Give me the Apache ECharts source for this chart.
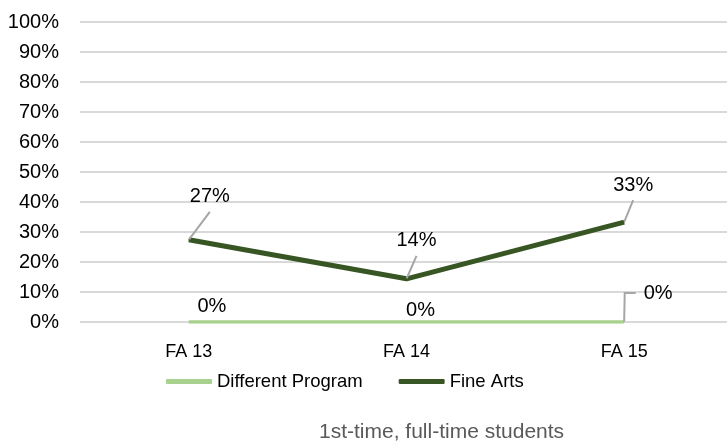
<!DOCTYPE html>
<html>
<head>
<meta charset="utf-8">
<script src="https://cdn.jsdelivr.net/npm/echarts@6/dist/echarts.min.js"></script>
<style>
html, body { margin: 0; padding: 0; background: #fff; }
#main { width: 727px; height: 445px; }
</style>
</head>
<body>
<div id="main"></div>
<script>
var categories = ['FA 13', 'FA 14', 'FA 15'];
var differentProgram = [0, 0, 0];
var fineArts = [27.4, 14.4, 33.3];
var seriesNames = ['Different Program', 'Fine Arts'];
var subtitle = '1st-time, full-time students';

var fontFamily = '"Liberation Sans", Arial, sans-serif';

//标签偏移 (相对于数据点)
var fineArtsOffsets = [[21, -43], [10, -38], [9, -37]];
var diffOffsets = [[23, -16], [14, -12], [34, -29]];

function pct(v) {
	return Math.round(v) + '%';
}

var myChart = echarts.init(document.getElementById('main'));

var option = {
	animation: false,
	title: {
		text: subtitle,
		left: 319,
		top: 422,
		padding: 0,
		textStyle: {
			fontFamily: fontFamily,
			fontSize: 21,
			fontWeight: 'normal',
			color: '#595959'
		}
	},
	legend: {
		data: seriesNames,
		left: 166,
		top: 372,
		padding: 0,
		icon: 'roundRect',
		itemWidth: 46,
		itemHeight: 5,
		itemGap: 36,
		textStyle: {
			fontFamily: fontFamily,
			fontSize: 18.5,
			color: '#000'
		}
	},
	grid: {
		left: 80,
		width: 653,
		top: 22,
		height: 300,
		containLabel: false,
		outerBoundsMode: 'none'
	},
	xAxis: {
		type: 'category',
		data: categories,
		boundaryGap: true,
		axisLine: { show: false },
		axisTick: { show: false },
		axisLabel: {
			margin: 21,
			fontFamily: fontFamily,
			fontSize: 18,
			color: '#000'
		}
	},
	yAxis: {
		type: 'value',
		min: 0,
		max: 100,
		interval: 10,
		axisLine: { show: false },
		axisTick: { show: false },
		axisLabel: {
			margin: 21,
			formatter: '{value}%',
			fontFamily: fontFamily,
			fontSize: 20,
			color: '#000'
		},
		splitLine: {
			lineStyle: { color: '#d9d9d9', width: 2 }
		}
	},
	series: [{
		name: seriesNames[0],
		type: 'line',
		data: differentProgram.map(function(v, idx) {
			return {
				value: v,
				labelLine: { show: idx == 2, length2: 11 }
			};
		}),
		symbol: 'circle',
		symbolSize: 1,
		itemStyle: { color: '#a9d18e' },
		lineStyle: { color: '#a9d18e', width: 3.5 },
		emphasis: { disabled: true },
		z: 2,
		label: {
			show: true,
			position: 'inside',
			padding: [5, 8, 5, 8],
			backgroundColor: 'rgba(255,255,255,0)',
			fontFamily: fontFamily,
			fontSize: 20,
			color: '#000',
			formatter: function(p) { return pct(p.value); }
		},
		labelLine: {
			show: true,
			lineStyle: { color: '#a6a6a6', width: 2 }
		},
		labelLayout: function(p) {
			return { dx: diffOffsets[p.dataIndex][0], dy: diffOffsets[p.dataIndex][1] };
		}
	}, {
		name: seriesNames[1],
		type: 'line',
		data: fineArts,
		symbol: 'circle',
		symbolSize: 1,
		itemStyle: { color: '#375623' },
		lineStyle: { color: '#375623', width: 5 },
		emphasis: { disabled: true },
		z: 3,
		label: {
			show: true,
			position: 'inside',
			padding: [5, 6, 5, 6],
			backgroundColor: 'rgba(255,255,255,0)',
			fontFamily: fontFamily,
			fontSize: 20,
			color: '#000',
			formatter: function(p) { return pct(p.value); }
		},
		labelLine: {
			show: true,
			lineStyle: { color: '#a6a6a6', width: 2 }
		},
		labelLayout: function(p) {
			return { dx: fineArtsOffsets[p.dataIndex][0], dy: fineArtsOffsets[p.dataIndex][1] };
		}
	}]
};

myChart.setOption(option);
</script>
</body>
</html>
